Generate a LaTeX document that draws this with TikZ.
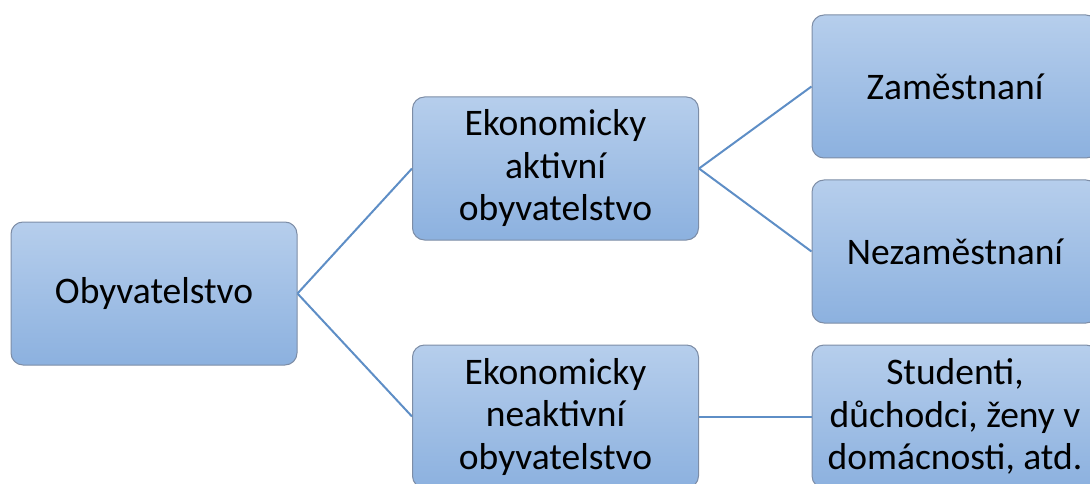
\documentclass[tikz,border=0pt]{standalone}
\usepackage{fontspec}
\setmainfont{Carlito}
\definecolor{boxtop}{HTML}{B6CEEC}
\definecolor{boxbot}{HTML}{8CB1DF}
\definecolor{boxline}{HTML}{7D8DA6}
\definecolor{conn}{HTML}{5E8EC6}
\tikzset{
  box/.style={draw=boxline, line width=1pt, rounded corners=12pt,
    top color=boxtop, bottom color=boxbot,
    minimum width=286pt, minimum height=143pt, inner sep=0pt,
    align=center, font=\fontsize{37.5}{42.5}\selectfont, text=black},
  link/.style={draw=conn, line width=2pt}
}
\begin{document}
\begin{tikzpicture}[x=1pt,y=-1pt]
\useasboundingbox (0,0) rectangle (1090,484);
\clip (0,0) rectangle (1090,484);
\node[box] (oby) at (154,293.5) {Obyvatelstvo};
\node[box] (akt) at (555.5,168.5) {Ekonomicky\\aktivní\\obyvatelstvo};
\node[box] (neakt) at (555.5,416.5) {Ekonomicky\\neaktivní\\obyvatelstvo};
\node[box] (zam) at (955,86.5) {Zaměstnaní};
\node[box] (nezam) at (955,251.5) {Nezaměstnaní};
\node[box] (stud) at (955,416.5) {Studenti,\\důchodci, ženy v\\domácnosti, atd.};
\draw[link] (oby.east) -- (akt.west);
\draw[link] (oby.east) -- (neakt.west);
\draw[link] (akt.east) -- (zam.west);
\draw[link] (akt.east) -- (nezam.west);
\draw[link] (neakt.east) -- (stud.west);
\end{tikzpicture}
\end{document}
